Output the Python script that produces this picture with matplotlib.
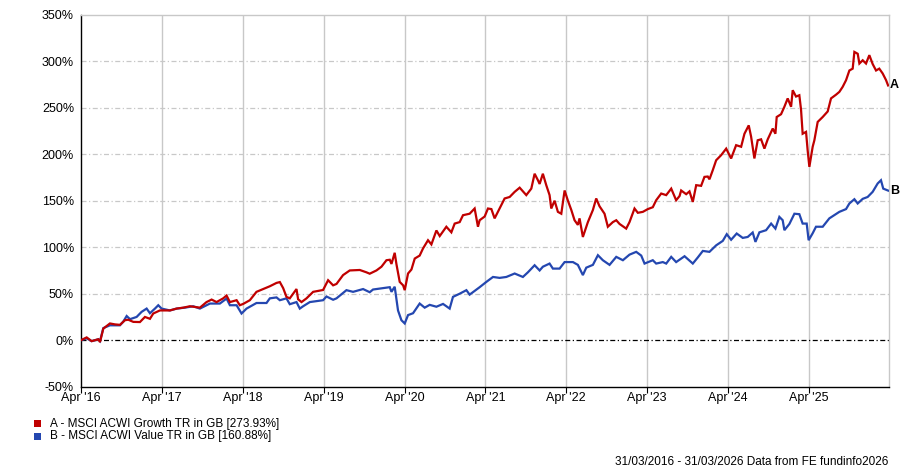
import matplotlib
matplotlib.use("Agg")
import matplotlib.pyplot as plt
from matplotlib.patches import Rectangle

plt.rcParams['font.family'] = ['Liberation Sans', 'DejaVu Sans']

# ---- data (decimal years, cumulative % return) ----
growth_t = [2016.247, 2016.317, 2016.379, 2016.461, 2016.482, 2016.523, 2016.605, 2016.667, 2016.729, 2016.791,
            2016.832, 2016.894, 2016.976, 2017.038, 2017.100, 2017.141, 2017.223, 2017.347, 2017.430, 2017.512,
            2017.594, 2017.718, 2017.800, 2017.863, 2017.924, 2018.006, 2018.048, 2018.089, 2018.172, 2018.212,
            2018.253, 2018.336, 2018.418, 2018.500, 2018.583, 2018.666, 2018.707, 2018.748, 2018.789, 2018.830,
            2018.913, 2018.933, 2018.975, 2019.037, 2019.119, 2019.242, 2019.304, 2019.366, 2019.408, 2019.489,
            2019.572, 2019.696, 2019.778, 2019.819, 2019.902, 2019.964, 2020.026, 2020.067, 2020.088, 2020.128,
            2020.149, 2020.190, 2020.232, 2020.252, 2020.293, 2020.335, 2020.376, 2020.437, 2020.478, 2020.540,
            2020.582, 2020.644, 2020.685, 2020.767, 2020.829, 2020.870, 2020.932, 2020.973, 2021.055, 2021.117,
            2021.158, 2021.179, 2021.241, 2021.282, 2021.324, 2021.364, 2021.405, 2021.488, 2021.550, 2021.612,
            2021.674, 2021.756, 2021.818, 2021.859, 2021.900, 2021.921, 2021.961, 2022.003, 2022.044, 2022.065,
            2022.106, 2022.147, 2022.189, 2022.230, 2022.271, 2022.313, 2022.353, 2022.394, 2022.415, 2022.456,
            2022.518, 2022.580, 2022.621, 2022.662, 2022.724, 2022.765, 2022.827, 2022.869, 2022.910, 2022.992,
            2023.033, 2023.095, 2023.136, 2023.198, 2023.260, 2023.321, 2023.363, 2023.425, 2023.487, 2023.549,
            2023.610, 2023.652, 2023.672, 2023.734, 2023.775, 2023.816, 2023.858, 2023.919, 2023.960, 2024.001,
            2024.022, 2024.063, 2024.105, 2024.167, 2024.229, 2024.290, 2024.352, 2024.414, 2024.455, 2024.508,
            2024.537, 2024.578, 2024.619, 2024.661, 2024.702, 2024.743, 2024.805, 2024.838, 2024.854, 2024.908,
            2024.949, 2024.990, 2025.032, 2025.052, 2025.093, 2025.134, 2025.155, 2025.175, 2025.217, 2025.237,
            2025.258, 2025.299, 2025.320, 2025.361, 2025.423, 2025.485, 2025.526, 2025.588, 2025.629, 2025.670,
            2025.712, 2025.753, 2025.794, 2025.815, 2025.856, 2025.877, 2025.918, 2025.959, 2026.000, 2026.041,
            2026.083, 2026.123, 2026.165, 2026.207, 2026.232]
growth_v = [0, 3, -1, 1, -2, 12.5, 18, 17, 16.5, 21.5,
            22, 19.7, 19.5, 25, 23, 28.7, 32, 32, 34, 35,
            36.5, 35, 41, 43.7, 41, 45, 48, 41, 43, 37.6,
            39, 43, 52, 55, 58, 61.6, 62.5, 56, 46.6, 45,
            55, 44, 41, 45, 52, 54, 64.5, 59, 60.5, 70,
            75, 75.5, 73, 71.5, 75, 79, 86, 86.5, 82, 94,
            82, 62.7, 59, 53.8, 71.7, 76, 87.8, 91, 98.6, 107.5,
            103, 118, 112, 122, 116, 125.4, 127, 134.4, 136, 141.6,
            122, 129, 133, 141.6, 141, 131, 138, 152.4, 154, 159.5,
            164, 156, 163, 179, 172, 168, 179, 166.7, 156, 141.6,
            150, 138, 136, 161, 150, 140, 129, 124, 131, 111,
            127, 140, 152.4, 144, 136, 122, 127, 129, 125, 120,
            127, 141.6, 137, 138, 141, 143, 150.5, 157.7, 156, 163,
            150.5, 155, 161, 157, 160, 148.7, 166.7, 166, 175.6, 176,
            173, 182.8, 193.5, 199, 206, 195.4, 209.7, 208, 222, 231,
            219, 195.4, 215, 216, 206, 216, 227.6, 222, 240, 243,
            251, 260, 251, 268.8, 262, 263.4, 248, 222, 224, 204,
            186.4, 208, 215, 234.7, 240, 246, 260, 264, 267, 272.4,
            279.6, 290, 292, 310, 308, 297.5, 301, 297.5, 306.5, 297,
            290, 292, 286.8, 279.6, 273.93]

value_t = [2016.247, 2016.317, 2016.379, 2016.461, 2016.482, 2016.523, 2016.605, 2016.667, 2016.729, 2016.770,
           2016.812, 2016.853, 2016.935, 2016.997, 2017.059, 2017.100, 2017.162, 2017.203, 2017.244, 2017.347,
           2017.430, 2017.533, 2017.635, 2017.718, 2017.842, 2017.965, 2018.048, 2018.089, 2018.172, 2018.233,
           2018.295, 2018.418, 2018.542, 2018.583, 2018.666, 2018.707, 2018.789, 2018.830, 2018.913, 2018.954,
           2018.995, 2019.078, 2019.242, 2019.284, 2019.366, 2019.408, 2019.531, 2019.613, 2019.737, 2019.819,
           2019.860, 2019.943, 2020.067, 2020.088, 2020.128, 2020.169, 2020.211, 2020.252, 2020.293, 2020.355,
           2020.437, 2020.499, 2020.561, 2020.644, 2020.726, 2020.808, 2020.849, 2020.932, 2021.015, 2021.055,
           2021.117, 2021.179, 2021.262, 2021.344, 2021.426, 2021.509, 2021.612, 2021.714, 2021.776, 2021.859,
           2021.921, 2021.961, 2022.044, 2022.085, 2022.168, 2022.230, 2022.333, 2022.394, 2022.456, 2022.498,
           2022.580, 2022.642, 2022.703, 2022.786, 2022.869, 2022.951, 2023.033, 2023.116, 2023.178, 2023.219,
           2023.321, 2023.363, 2023.445, 2023.487, 2023.549, 2023.610, 2023.714, 2023.816, 2023.878, 2023.940,
           2024.022, 2024.105, 2024.187, 2024.236, 2024.290, 2024.359, 2024.434, 2024.495, 2024.557, 2024.591,
           2024.640, 2024.723, 2024.785, 2024.838, 2024.887, 2024.928, 2024.949, 2025.011, 2025.073, 2025.134,
           2025.175, 2025.225, 2025.249, 2025.299, 2025.340, 2025.423, 2025.505, 2025.629, 2025.712, 2025.753,
           2025.815, 2025.856, 2025.918, 2025.979, 2026.041, 2026.103, 2026.144, 2026.172, 2026.232]
value_v = [0, 2, -1, 1, -1, 13, 16, 16, 16, 20,
           26, 22.6, 25, 30.5, 34, 29, 34, 37.6, 34, 32,
           34, 35, 36.5, 34, 39.4, 39.4, 44.8, 37.6, 37.6, 28.7,
           34, 40, 40, 45, 46, 43, 45, 38.7, 41, 34,
           36.5, 41, 43, 47, 43.5, 45, 53.8, 52, 55, 51.6,
           54.5, 55.5, 57, 52, 57.5, 32, 21.5, 18, 27, 29,
           39.4, 35, 38, 36, 39, 34, 46.6, 50, 53.8, 49,
           53, 57, 62.7, 68, 67, 68, 71.7, 68, 73, 80.6,
           75, 79, 82.4, 77, 77, 84, 84, 81, 70, 78,
           81, 91.4, 86, 81, 89.6, 86, 92, 95, 91, 82.4,
           86, 82.4, 84, 82.4, 89.6, 84, 90.3, 82.4, 89, 96,
           95, 102, 106.8, 114, 108, 114.7, 110, 111, 115.8, 105.7,
           116, 118.3, 125.4, 120, 132.6, 129, 118.3, 125, 136, 135.5,
           125.4, 125.4, 107.5, 115, 122, 122, 131, 138, 141, 147,
           151.6, 147, 152, 154, 159.5, 168.5, 172, 163, 160.88]

series_labels = ["A - MSCI ACWI Growth TR in GB [273.93%]", "B - MSCI ACWI Value TR in GB [160.88%]"]
end_tags = ["A", "B"]
x_tick_years = [2016, 2017, 2018, 2019, 2020, 2021, 2022, 2023, 2024, 2025]
x_tick_labels = ["Apr '16", "Apr '17", "Apr '18", "Apr '19", "Apr '20", "Apr '21", "Apr '22", "Apr '23", "Apr '24", "Apr '25"]
y_ticks = [-50, 0, 50, 100, 150, 200, 250, 300, 350]
footer = "31/03/2016 - 31/03/2026 Data from FE fundinfo2026"

RED = '#C00000'
BLUE = '#2447B0'

fig = plt.figure(figsize=(9, 4.67), dpi=100)
ax = fig.add_axes([81/900, 1 - 386.7/467, (889.3 - 81)/900, (386.7 - 14.7)/467])

ax.set_xlim(2016.247, 2026.247)
ax.set_ylim(-50, 350)

# grids
for yv in y_ticks:
    if yv in (-50, 0, 350):
        continue
    ax.axhline(yv, color='#c8c8c8', lw=0.9, ls=(0, (4, 2, 1, 2)), zorder=1)
tick_pos = [y + 0.25 for y in x_tick_years]
for xv in tick_pos[1:]:
    ax.axvline(xv, color='#c8c8c8', lw=1.0, zorder=1)
ax.axhline(0, color='black', lw=0.9, ls=(0, (4, 2, 1, 2)), zorder=2)

ax.plot(value_t, value_v, color=BLUE, lw=1.6, zorder=3, solid_joinstyle='miter')
ax.plot(growth_t, growth_v, color=RED, lw=1.6, zorder=4, solid_joinstyle='miter')

ax.set_yticks(y_ticks)
ax.set_yticklabels([f"{v}%" for v in y_ticks])
ax.set_xticks(tick_pos)
ax.set_xticklabels(x_tick_labels)
ax.tick_params(axis='y', length=0, pad=5, labelsize=9)
ax.tick_params(axis='x', length=4, width=0.8, pad=0, labelsize=9, color='black')

for s in ('top', 'right'):
    ax.spines[s].set_color('#c8c8c8')
    ax.spines[s].set_linewidth(1.0)
for s in ('left', 'bottom'):
    ax.spines[s].set_color('black')
    ax.spines[s].set_linewidth(1.0)

# end tags
ax.annotate(end_tags[0], xy=(growth_t[-1], growth_v[-1]), xytext=(1.2, 0), textcoords='offset points',
            va='center', ha='left', fontsize=9, fontweight='bold', annotation_clip=False)
ax.annotate(end_tags[1], xy=(value_t[-1], value_v[-1]), xytext=(1.2, 0), textcoords='offset points',
            va='center', ha='left', fontsize=9, fontweight='bold', annotation_clip=False)

# legend
for i, (lab, col) in enumerate(zip(series_labels, [RED, BLUE])):
    yc = 423.5 + i * 12.8
    fig.patches.append(Rectangle((34/900, 1 - (yc + 3.5)/467), 7/900, 7/467,
                                 transform=fig.transFigure, facecolor=col, edgecolor='none'))
    fig.text(50/900, 1 - yc/467, lab, fontsize=8.5, va='center', ha='left')

fig.text(888/900, 1 - 461.7/467, footer, fontsize=8.5, va='center', ha='right')

fig.savefig('out.png', dpi=100)
